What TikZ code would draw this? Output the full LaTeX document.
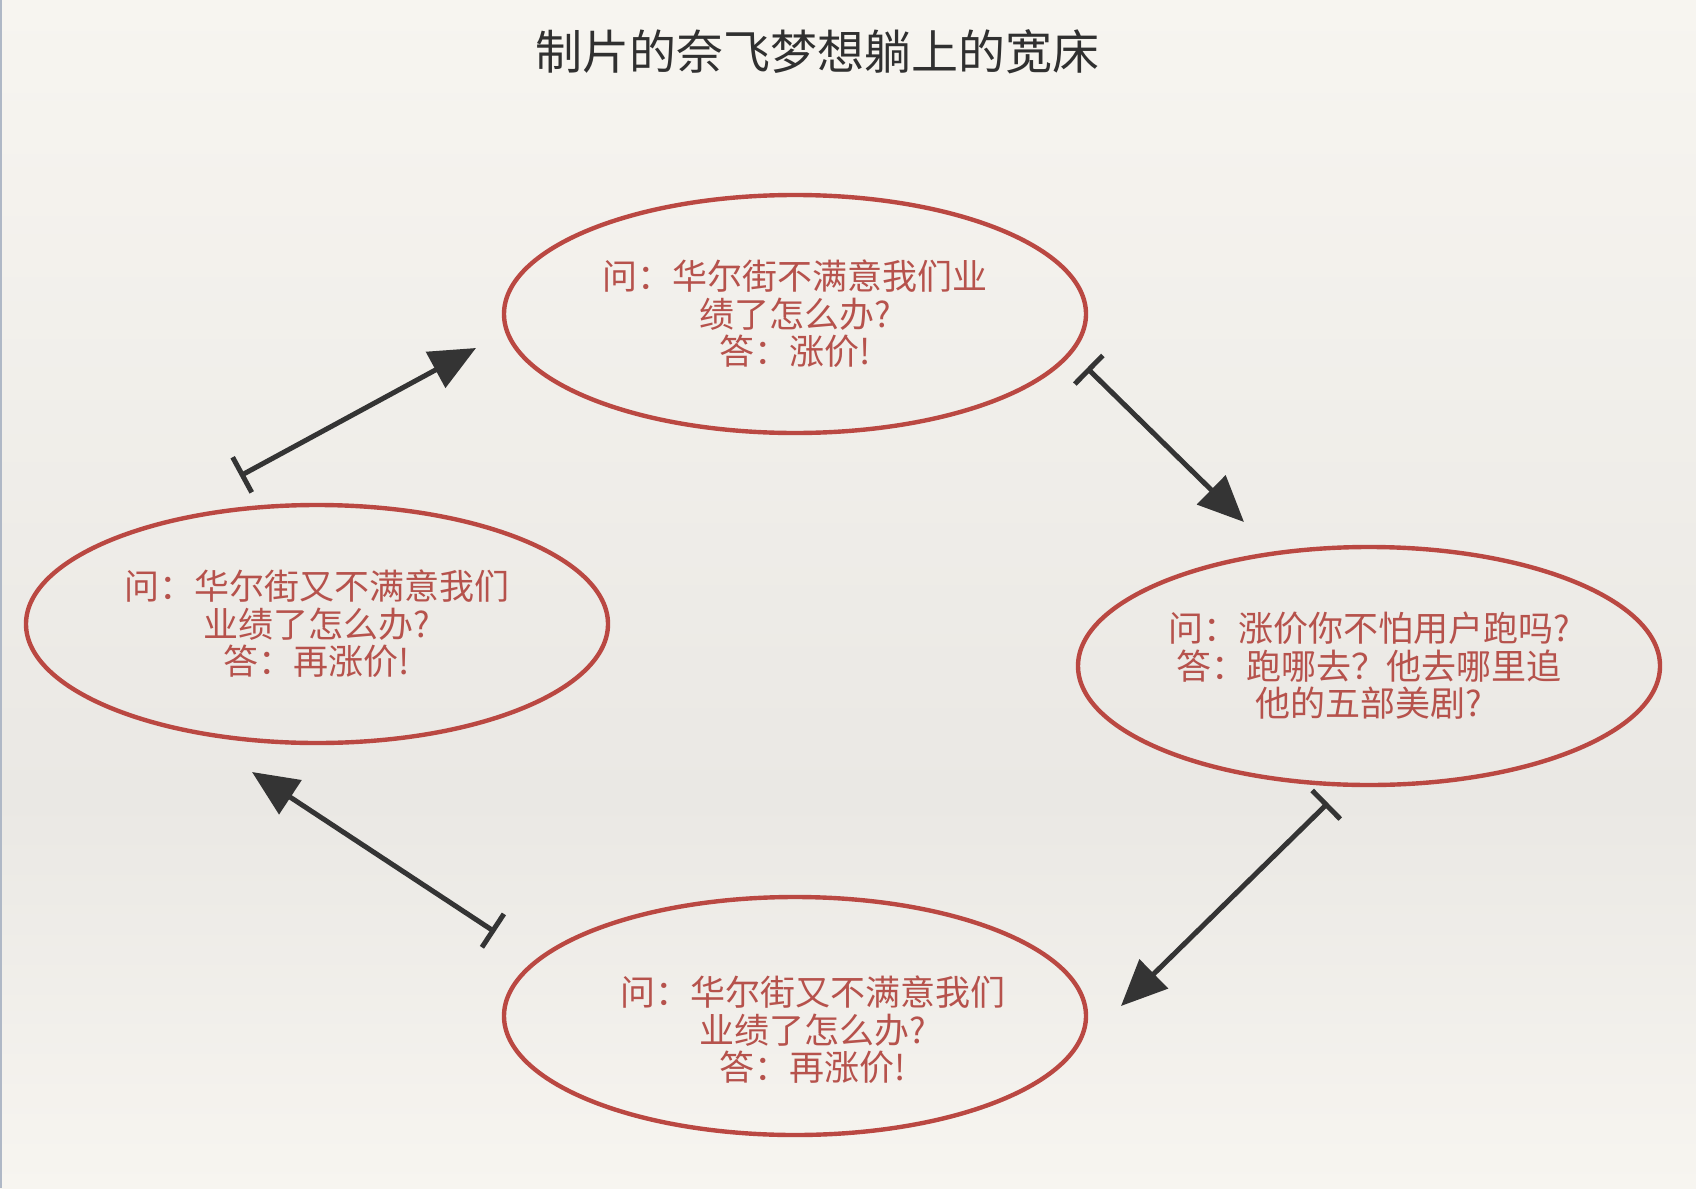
\documentclass[tikz,border=0pt]{standalone}
\usepackage{fontspec}
\newfontfamily\cjk{Noto Sans CJK SC}
\usetikzlibrary{arrows.meta,shapes.geometric}
\definecolor{paper}{RGB}{247,245,240}
\definecolor{papermid}{RGB}{234,232,228}
\definecolor{crayonred}{RGB}{186,72,66}
\definecolor{textred}{RGB}{182,82,76}
\definecolor{ink}{RGB}{52,52,52}
\definecolor{titleink}{RGB}{48,48,48}
\definecolor{edge}{RGB}{175,184,198}
\tikzset{
  bubble/.style={ellipse, draw=crayonred, line width=4.4pt, minimum width=582pt,
    minimum height=238pt, inner sep=0pt, align=center, text=textred,
    font=\fontsize{35}{37.5}\cjk},
  bubbletext/.style={align=center, text=textred, inner sep=0pt,
    font=\fontsize{35}{37.5}\cjk},
  conn/.style={draw=ink, line width=5pt,
    {Bar[width=40pt,line width=5pt]}-{Triangle[length=46pt,width=40pt]}},
}
\begin{document}
\begin{tikzpicture}[x=1pt,y=-1pt]
\useasboundingbox (0,0) rectangle (1696,1188);
\shade[top color=paper, bottom color=papermid] (0,0) rectangle (1696,800);
\shade[top color=papermid, bottom color=paper] (0,800) rectangle (1696,1188);
\fill[edge] (0,0) rectangle (2,1188);

\node[text=titleink, font=\fontsize{47}{54}\cjk] (title) at (817,52) {制片的奈飞梦想躺上的宽床};

\node[bubble] (top) at (795,314) {问：华尔街不满意我们业\\绩了怎么办?\\答：涨价!};
\node[bubble] (right) at (1369,666) {问：涨价你不怕用户跑吗?\\答：跑哪去？他去哪里追\\他的五部美剧?};
\node[bubble] (bottom) at (795,1016) {};
\node[bubbletext] (bottomtext) at (813,1030) {问：华尔街又不满意我们\\业绩了怎么办?\\答：再涨价!};
\node[bubble] (left) at (317,624) {问：华尔街又不满意我们\\业绩了怎么办?\\答：再涨价!};

\coordinate (a1s) at (240,476);  \coordinate (a1e) at (476,348);
\coordinate (a2s) at (1087,368); \coordinate (a2e) at (1244,522);
\coordinate (a3s) at (1328,803); \coordinate (a3e) at (1121,1006);
\coordinate (a4s) at (495,932);  \coordinate (a4e) at (252,772);

\draw[conn] (a1s) -- (a1e);
\draw[conn] (a2s) -- (a2e);
\draw[conn] (a3s) -- (a3e);
\draw[conn] (a4s) -- (a4e);
\end{tikzpicture}
\end{document}
